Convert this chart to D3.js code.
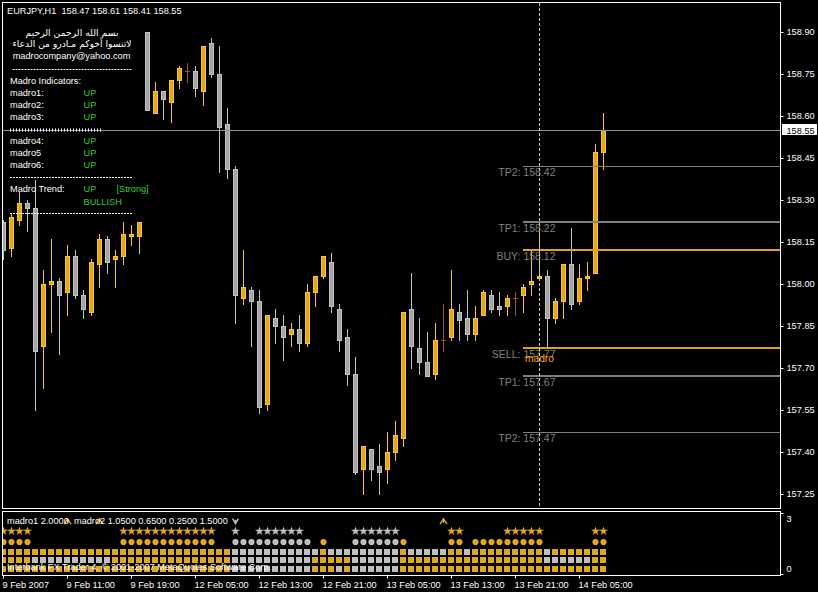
<!DOCTYPE html>
<html><head><meta charset="utf-8">
<script src="https://cdn.jsdelivr.net/npm/d3@7"></script>
<style>
html,body{margin:0;padding:0;background:#000;overflow:hidden}
svg{display:block}
</style></head><body>
<script>
// ---------------- DATA ----------------
const symbolTitle = "EURJPY,H1";
const headerOHLC = ["158.47", "158.61", "158.41", "158.55"];

const open = [158.22,158.13,158.23,158.29,158.27,157.78,158.00,158.01,157.97,158.10,
  157.96,157.90,158.07,158.16,158.09,158.10,158.17,158.17,158.90,158.61,
  158.69,158.65,158.73,158.76,158.76,158.69,158.86,158.75,158.57,158.41,
  157.95,157.98,157.94,157.57,157.88,157.85,157.82,157.84,157.79,157.97,
  158.03,158.08,157.91,157.81,157.68,157.34,157.41,157.35,157.34,157.40,
  157.45,157.91,157.77,157.72,157.68,157.80,157.81,157.90,157.88,157.82,
  157.89,157.96,157.92,157.92,157.95,157.96,158.00,158.02,158.03,157.88,
  157.94,158.07,157.94,158.02,158.04,158.47];
const high = [158.23,158.25,158.33,158.30,158.37,158.05,158.16,158.02,158.14,158.12,
  157.98,158.09,158.18,158.17,158.12,158.22,158.21,158.22,158.90,158.72,
  158.69,158.73,158.78,158.79,158.78,158.85,158.88,158.85,158.63,158.42,
  158.12,157.99,157.98,157.89,157.91,157.89,157.86,157.89,158.00,158.03,
  158.10,158.11,157.93,157.84,157.74,157.42,157.41,157.43,157.47,157.51,
  157.90,158.04,157.88,157.83,157.86,157.93,158.05,157.93,157.98,157.92,
  157.98,157.98,157.97,157.96,157.97,158.00,158.12,158.19,158.05,157.95,
  158.07,158.20,158.07,158.08,158.50,158.61];
const low = [158.09,158.10,158.21,158.19,157.55,157.63,157.83,157.75,157.89,157.95,
  157.88,157.89,157.99,158.04,157.99,158.07,158.14,158.11,158.62,158.61,
  158.59,158.58,158.70,158.72,158.67,158.64,158.74,158.40,158.38,157.86,
  157.93,157.78,157.54,157.55,157.79,157.73,157.78,157.76,157.78,157.92,
  158.02,157.90,157.76,157.64,157.32,157.25,157.30,157.25,157.29,157.37,
  157.42,157.70,157.68,157.67,157.66,157.76,157.80,157.80,157.80,157.80,
  157.89,157.90,157.89,157.89,157.89,157.90,157.96,158.02,157.77,157.86,
  157.88,157.91,157.93,157.98,158.04,158.41];
const close = [158.12,158.24,158.29,158.27,157.76,158.00,158.01,157.96,158.10,157.96,
  157.91,158.08,158.16,158.08,158.10,158.18,158.18,158.22,158.62,158.69,
  158.66,158.73,158.77,158.76,158.70,158.85,158.75,158.56,158.41,157.96,
  157.99,157.94,157.56,157.89,157.85,157.81,157.84,157.79,157.97,158.03,
  158.10,157.92,157.80,157.68,157.33,157.42,157.34,157.33,157.40,157.46,
  157.90,157.78,157.72,157.67,157.80,157.80,157.91,157.87,157.82,157.88,
  157.97,157.91,157.91,157.95,157.95,157.99,158.01,158.03,157.88,157.94,
  158.07,157.93,158.02,158.03,158.47,158.55];

const priceTicks = [158.90,158.75,158.60,158.45,158.30,158.15,158.00,157.85,157.70,157.55,157.40,157.25];
const timeTickIdx = [0,8,16,24,32,40,48,56,64,72];
const timeTickLabels = ["9 Feb 2007","9 Feb 11:00","9 Feb 19:00","12 Feb 05:00","12 Feb 13:00",
  "12 Feb 21:00","13 Feb 05:00","13 Feb 13:00","13 Feb 21:00","14 Feb 05:00"];
const currentPrice = 158.55;
const cursorIdx = 67;
const levelStartIdx = 65;
const levelNames  = ["TP2","TP1","BUY","SELL","TP1","TP2"];
const levelValues = [158.42,158.22,158.12,157.77,157.67,157.47];
const levelKinds  = ["tp2","tp1","entry","entry","tp1","tp2"];
const signalLabel = "madro";

const arabicLines = ["بسم الله الرحمن الرحيم", "لاتنسوا أخوكم مـادرو من الدعاء"];
const emailLine = "madrocompany@yahoo.com";
const indicatorsTitle = "Madro Indicators:";
const indicatorNames = ["madro1:","madro2:","madro3:","madro4:","madro5","madro6:"];
const indicatorStates = ["UP","UP","UP","UP","UP","UP"];
const trendTitle = "Madro Trend:";
const trendState = "UP";
const trendStrength = "[Strong]";
const trendBias = "BULLISH";

const subLabel1 = "madro1 2.0000";
const subLabel2 = "madro2 1.0500 0.6500 0.2500 1.5000";
const copyrightText = "Interbank FX Trader 4, © 2001-2007 MetaQuotes Software Corp.";
const subTicks = [0, 3];
// indicator rows per bar: o = orange, g = gray, u = up arrow, d = down arrow, . = none
const rowArrows  = ("........u." + "..u......." + ".........d" + ".........." + ".........." + ".....u...." + ".........." + "......").split("");
const rowStars   = ("oooo......" + ".....ooooo" + "ooooooo..g" + "..gggggg.." + "....gggggg" + "......oo.." + "...ooooo.." + "....oo").split("");
const rowCircles = ("oooo......" + ".....ooooo" + "ooooooo..g" + "ggggggggg." + "o...gggggg" + "o.....oo.o" + "oooooooo.." + "....oo").split("");
const rowSq1     = ("oooooooooo" + "oooooooooo" + "ooooooooog" + "gggggggggg" + "oggggggggg" + "ogggggoogo" + "oooooooogo" + "oooooo").split("");
const rowSq2     = ("oooogggggg" + "ggggoooooo" + "ooooooooog" + "gggggggggo" + "oooogggggg" + "oooooooooo" + "oooooooogg" + "ggggoo").split("");
const rowSq3     = ("oooooooooo" + "oooooooooo" + "ooooooooog" + "gggggggggo" + "oogogggggg" + "oooooooooo" + "oooooooooo" + "oooooo").split("");
const rowLevels = {arrows: 2.85, stars: 2.25, circles: 1.6, sq1: 1.0, sq2: 0.5, sq3: 0.0};

// ---------------- STYLE / LAYOUT ----------------
const UI = "'Liberation Sans', Arial, sans-serif";
const bull = {fill: "#E0A820", stroke: "#FFC81E", wick: "#FFC81E"};
const bear = {fill: "#A4A4A4", stroke: "#C4C4C4", wick: "#C4C4C4"};
const dojiCol = "#A0522D";
const ORANGE = "#E0A820", GRAY = "#C0C0C0";

const svg = d3.select("body").append("svg").attr("width", 818).attr("height", 592);
svg.append("rect").attr("width", 818).attr("height", 592).attr("fill", "#000");
const defs = svg.append("defs");
defs.append("clipPath").attr("id", "clipMain").append("rect").attr("x", 3).attr("y", 3).attr("width", 777).attr("height", 505);
defs.append("clipPath").attr("id", "clipSub").append("rect").attr("x", 3).attr("y", 512).attr("width", 777).attr("height", 63);

const x = d3.scaleLinear().domain([0, 75]).range([3.5, 603.5]);
const y = d3.scaleLinear().domain([157.25, 158.90]).range([494, 32]);
const yInd = d3.scaleLinear().domain([0, 3]).range([568.7, 518.7]);

// ---------------- CANDLES ----------------
const bars = open.map((o, i) => ({i, o, h: high[i], l: low[i], c: close[i]}));
const gMain = svg.append("g").attr("clip-path", "url(#clipMain)");
const gc = gMain.selectAll("g.bar").data(bars).join("g").attr("class", "bar");
gc.append("line")
  .attr("x1", d => x(d.i)).attr("x2", d => x(d.i))
  .attr("y1", d => Math.round(y(d.h))).attr("y2", d => Math.round(y(d.l)) + 1)
  .attr("stroke", d => d.c > d.o ? bull.wick : d.c < d.o ? bear.wick : dojiCol)
  .attr("stroke-width", 1);
gc.filter(d => d.c !== d.o).append("rect")
  .attr("x", d => x(d.i) - 2)
  .attr("y", d => Math.round(y(Math.max(d.o, d.c))) + 0.5)
  .attr("width", 4)
  .attr("height", d => Math.max(1, Math.round(y(Math.min(d.o, d.c))) - Math.round(y(Math.max(d.o, d.c)))))
  .attr("fill", d => d.c > d.o ? bull.fill : bear.fill)
  .attr("stroke", d => d.c > d.o ? bull.stroke : bear.stroke)
  .attr("stroke-width", 1);
gc.filter(d => d.c === d.o).append("line")
  .attr("x1", d => x(d.i) - 2.5).attr("x2", d => x(d.i) + 2.5)
  .attr("y1", d => Math.round(y(d.o)) + 0.5).attr("y2", d => Math.round(y(d.o)) + 0.5)
  .attr("stroke", dojiCol).attr("stroke-width", 1);

// ---------------- LEVEL LINES ----------------
const levels = levelValues.map((v, i) => ({v, name: levelNames[i], kind: levelKinds[i]}));
const lvlStyle = {
  tp2: {color: "#808080", w: 1},
  tp1: {color: "#808080", w: 2},
  entry: {color: "#E0A020", w: 2}
};
gMain.selectAll("line.lvl").data(levels).join("line").attr("class", "lvl")
  .attr("x1", x(levelStartIdx) - 0.5).attr("x2", 780)
  .attr("y1", d => lvlStyle[d.kind].w === 1 ? Math.round(y(d.v)) + 0.5 : Math.round(y(d.v)))
  .attr("y2", d => lvlStyle[d.kind].w === 1 ? Math.round(y(d.v)) + 0.5 : Math.round(y(d.v)))
  .attr("stroke", d => lvlStyle[d.kind].color)
  .attr("stroke-width", d => lvlStyle[d.kind].w);

// current price line
gMain.append("line").attr("x1", 3).attr("x2", 780)
  .attr("y1", Math.round(y(currentPrice)) + 0.5).attr("y2", Math.round(y(currentPrice)) + 0.5)
  .attr("stroke", "#8796A8").attr("stroke-width", 1);

// labels
svg.selectAll("text.lvl").data(levels).join("text").attr("class", "lvl")
  .attr("x", 555.5).attr("y", d => Math.round(y(d.v)) + 10)
  .attr("text-anchor", "end")
  .style("font", "10.5px " + UI).attr("fill", "#808080")
  .text(d => d.name + ": " + d.v.toFixed(2));
svg.append("text").attr("x", x(levelStartIdx) + 1.5).attr("y", Math.round(y(levelValues[3])) + 14)
  .style("font", "10.2px " + UI).attr("fill", "#FFA010").text(signalLabel);

// cursor dashed line
svg.append("line").attr("x1", x(cursorIdx)).attr("x2", x(cursorIdx)).attr("y1", 3).attr("y2", 508)
  .attr("stroke", "#C8C8C8").attr("stroke-width", 1).attr("stroke-dasharray", "3,2");

// ---------------- HEADER / INFO TEXT ----------------
svg.append("text").attr("x", 7).attr("y", 14).style("font", "9.2px " + UI).style("white-space", "pre")
  .attr("fill", "#fff").text(symbolTitle + "  " + headerOHLC.join(" "));

const arW = [93, 119];
svg.selectAll("text.ar").data(arabicLines).join("text").attr("class", "ar")
  .attr("x", 72).attr("y", (d, i) => 36 + i * 11)
  .attr("text-anchor", "middle").attr("direction", "rtl")
  .attr("textLength", (d, i) => arW[i]).attr("lengthAdjust", "spacingAndGlyphs")
  .style("font", "9.5px 'DejaVu Sans', sans-serif").attr("fill", "#fff").text(d => d);
svg.append("text").attr("x", 71.5).attr("y", 59).attr("text-anchor", "middle")
  .style("font", "9.2px " + UI).attr("fill", "#fff").text(emailLine);

const sepYs = [69.5, 177.5, 213.5];
svg.selectAll("line.sep").data(sepYs).join("line").attr("class", "sep")
  .attr("x1", (d, i) => i === 0 ? 12.5 : 10).attr("x2", 132).attr("y1", d => d).attr("y2", d => d)
  .attr("stroke", "#fff").attr("stroke-dasharray", "2,1");
svg.append("line").attr("x1", 10).attr("x2", 102).attr("y1", 130).attr("y2", 130)
  .attr("stroke", "#fff").attr("stroke-width", 3).attr("stroke-dasharray", "1,2");

svg.append("text").attr("x", 10).attr("y", 84).style("font", "9.2px " + UI).attr("fill", "#fff").text(indicatorsTitle);
const indY = [96, 108, 120, 144, 156, 168];
svg.selectAll("text.indn").data(indicatorNames).join("text").attr("class", "indn")
  .attr("x", 10).attr("y", (d, i) => indY[i]).style("font", "9.2px " + UI).attr("fill", "#fff").text(d => d);
svg.selectAll("text.inds").data(indicatorStates).join("text").attr("class", "inds")
  .attr("x", 83.5).attr("y", (d, i) => indY[i]).style("font", "9.2px " + UI).attr("fill", "#32CD32").text(d => d);
svg.append("text").attr("x", 10).attr("y", 192).style("font", "9.2px " + UI).attr("fill", "#fff").text(trendTitle);
svg.append("text").attr("x", 83.5).attr("y", 192).style("font", "9.2px " + UI).attr("fill", "#32CD32").text(trendState);
svg.append("text").attr("x", 116.5).attr("y", 192).style("font", "9.2px " + UI).attr("fill", "#32CD32").text(trendStrength);
svg.append("text").attr("x", 83.5).attr("y", 204.5).style("font", "9.2px " + UI).attr("fill", "#32CD32").text(trendBias);

// ---------------- PANEL FRAMES ----------------
svg.append("rect").attr("x", 2.5).attr("y", 2.5).attr("width", 778).attr("height", 506)
  .attr("fill", "none").attr("stroke", "#fff");
svg.append("rect").attr("x", 2.5).attr("y", 511.5).attr("width", 778).attr("height", 64)
  .attr("fill", "none").attr("stroke", "#fff");

// ---------------- RIGHT PRICE AXIS ----------------
svg.append("g").attr("transform", "translate(780.5,0)")
  .call(d3.axisRight(y).tickValues(priceTicks).tickSize(3).tickPadding(3).tickFormat(d3.format(".2f")))
  .call(g => g.select(".domain").remove())
  .call(g => g.selectAll("line").attr("stroke", "#fff"))
  .call(g => g.selectAll("text").attr("fill", "#fff").style("font", "9.2px " + UI));
// current price box
svg.append("rect").attr("x", 782).attr("y", Math.round(y(currentPrice)) - 6).attr("width", 35).attr("height", 11).attr("fill", "#fff");
svg.append("text").attr("x", 786.5).attr("y", Math.round(y(currentPrice)) + 3.5)
  .style("font", "9.2px " + UI).attr("fill", "#000").text(currentPrice.toFixed(2));

// ---------------- SUB-WINDOW (indicator) ----------------
const gSub = svg.append("g").attr("clip-path", "url(#clipSub)");
const colOf = c => c === "o" ? ORANGE : GRAY;
function squares(row, lvl) {
  gSub.selectAll(null).data(row.map((c, i) => ({c, i})).filter(d => d.c !== "."))
    .join("rect")
    .attr("x", d => Math.floor(x(d.i) - 3)).attr("y", Math.round(yInd(lvl)) - 3)
    .attr("width", 6).attr("height", 6).attr("fill", d => colOf(d.c));
}
squares(rowSq1, rowLevels.sq1);
squares(rowSq2, rowLevels.sq2);
squares(rowSq3, rowLevels.sq3);
gSub.selectAll(null).data(rowCircles.map((c, i) => ({c, i})).filter(d => d.c !== "."))
  .join("circle").attr("cx", d => x(d.i)).attr("cy", yInd(rowLevels.circles)).attr("r", 3.1)
  .attr("fill", d => colOf(d.c));
gSub.selectAll(null).data(rowStars.map((c, i) => ({c, i})).filter(d => d.c !== "."))
  .join("path").attr("transform", d => `translate(${x(d.i)},${yInd(rowLevels.stars)})`)
  .attr("d", d3.symbol(d3.symbolStar, 26)).attr("fill", d => colOf(d.c));
gSub.selectAll(null).data(rowArrows.map((c, i) => ({c, i})).filter(d => d.c !== "."))
  .join("path").attr("transform", d => `translate(${x(d.i)},${yInd(rowLevels.arrows)})`)
  .attr("d", d => d.c === "u" ? "M-3.5,3L0,-2.5L3.5,3M0,-2.5L0,1.5" : "M-3,-2.5L0,2.5L3,-2.5M0,2.5L0,-1.5")
  .attr("fill", "none").attr("stroke", d => d.c === "u" ? ORANGE : GRAY).attr("stroke-width", 1.4);

svg.append("text").attr("x", 7).attr("y", 523.5).style("font", "9.2px " + UI).attr("fill", "#fff").text(subLabel1);
svg.append("text").attr("x", 74).attr("y", 523.5).style("font", "9.2px " + UI).attr("fill", "#fff").text(subLabel2);
svg.append("text").attr("x", 7).attr("y", 570).style("font", "9.2px " + UI).attr("fill", "#fff").text(copyrightText);

svg.append("g").attr("transform", "translate(780.5,0)")
  .call(d3.axisRight(yInd).tickValues(subTicks).tickSize(0).tickPadding(6).tickFormat(d3.format("d")))
  .call(g => g.select(".domain").remove())
  .call(g => g.selectAll("text").attr("fill", "#fff").style("font", "9.2px " + UI));
svg.append("line").attr("x1", 780.5).attr("x2", 783.5).attr("y1", 513.5).attr("y2", 513.5).attr("stroke", "#fff");
svg.append("line").attr("x1", 780.5).attr("x2", 783.5).attr("y1", 574.5).attr("y2", 574.5).attr("stroke", "#fff");

// ---------------- TIME AXIS ----------------
svg.append("g").attr("transform", "translate(0,575.5)")
  .call(d3.axisBottom(x).tickValues(timeTickIdx).tickSize(3).offset(0)
    .tickFormat((d, i) => timeTickLabels[i]))
  .call(g => g.select(".domain").remove())
  .call(g => g.selectAll("line").attr("stroke", "#fff"))
  .call(g => g.selectAll("text").attr("fill", "#fff").style("font", "9.2px " + UI)
    .attr("text-anchor", "start").attr("x", -1).attr("y", 12.5).attr("dy", null));
</script>
</body></html>
